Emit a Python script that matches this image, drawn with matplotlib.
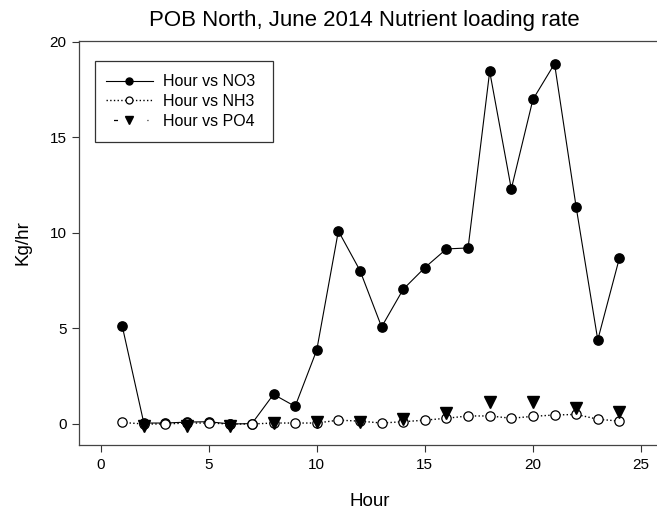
import numpy as np
import matplotlib
matplotlib.use("Agg")
import matplotlib.pyplot as plt
from matplotlib.patches import Rectangle

plt.rcParams["font.family"] = ["Liberation Sans", "DejaVu Sans"]
plt.rcParams["lines.scale_dashes"] = False

# Data
hours = list(range(1, 25))
no3 = [5.13, 0.05, 0.05, 0.1, 0.12, 0.0, 0.02, 1.55, 0.92, 3.87, 10.1, 8.03,
       5.08, 7.05, 8.18, 9.16, 9.21, 18.45, 12.3, 16.98, 18.85, 11.35, 4.4, 8.68]
nh3 = [0.08, 0.0, 0.0, 0.05, 0.05, 0.0, 0.0, 0.05, 0.05, 0.05, 0.2, 0.15,
       0.05, 0.12, 0.2, 0.3, 0.42, 0.42, 0.3, 0.4, 0.47, 0.5, 0.25, 0.15]
# PO4 only sampled every other hour
po4 = [np.nan, -0.08, np.nan, -0.08, np.nan, -0.08, np.nan, 0.04, np.nan, 0.08,
       np.nan, 0.12, np.nan, 0.25, np.nan, 0.56, np.nan, 1.14, np.nan, 1.14,
       np.nan, 0.85, np.nan, 0.62]

fig = plt.figure(figsize=(6.57, 5.15), dpi=100)
# axes runs off the right edge like the original export
ax = fig.add_axes([0.1202, 0.1359, 0.8798, 0.7845])

ax.plot(hours, no3, "k-", lw=0.8, marker="o", ms=6.7, mfc="black",
        mec="black", label="Hour vs NO3", zorder=3)
ax.plot(hours, nh3, "k:", lw=1.0, marker="o", ms=6.7, mfc="white",
        mec="black", mew=0.9, label="Hour vs NH3", zorder=4)
ax.plot(hours, po4, color="black", ls=(28.6, (2.9, 21.2, 0.7, 9.2)), lw=0.9,
        marker="v", ms=8, mfc="black", mec="black", label="Hour vs PO4",
        zorder=5)

ax.set_xlim(-1.0, 25.74)
ax.set_ylim(-1.1, 20.04)
ax.set_xticks([0, 5, 10, 15, 20, 25])
ax.set_yticks([0, 5, 10, 15, 20])
ax.tick_params(direction="out", length=5, width=0.8, labelsize=11,
               color="#333333", pad=4)
ax.spines["right"].set_visible(False)
for s in ["left", "top", "bottom"]:
    ax.spines[s].set_linewidth(0.9)
    ax.spines[s].set_color("#444444")

fig.text(364.5 / 657, 1 - 26 / 515, "POB North, June 2014 Nutrient loading rate",
         fontsize=16, ha="center", va="baseline")
fig.text(370 / 657, 9 / 515, "Hour", fontsize=13.5, ha="center", va="baseline")
fig.text(23 / 657, 1 - 242.5 / 515, "Kg/hr", fontsize=13.5, rotation=90,
         ha="center", va="center")

# legend box drawn by hand so the padding can match
ax.add_patch(Rectangle((0.0277, 0.7507), 0.308, 0.2005, transform=ax.transAxes,
                       fill=False, ec="#333333", lw=0.9, zorder=6))
ax.legend(loc="upper left", bbox_to_anchor=(0.0462, 0.918), fontsize=11.5,
          frameon=False, handlelength=2.98, borderpad=0, labelspacing=0.3,
          handletextpad=0.63, borderaxespad=0, markerscale=0.75)

fig.savefig("out.png", dpi=100)
